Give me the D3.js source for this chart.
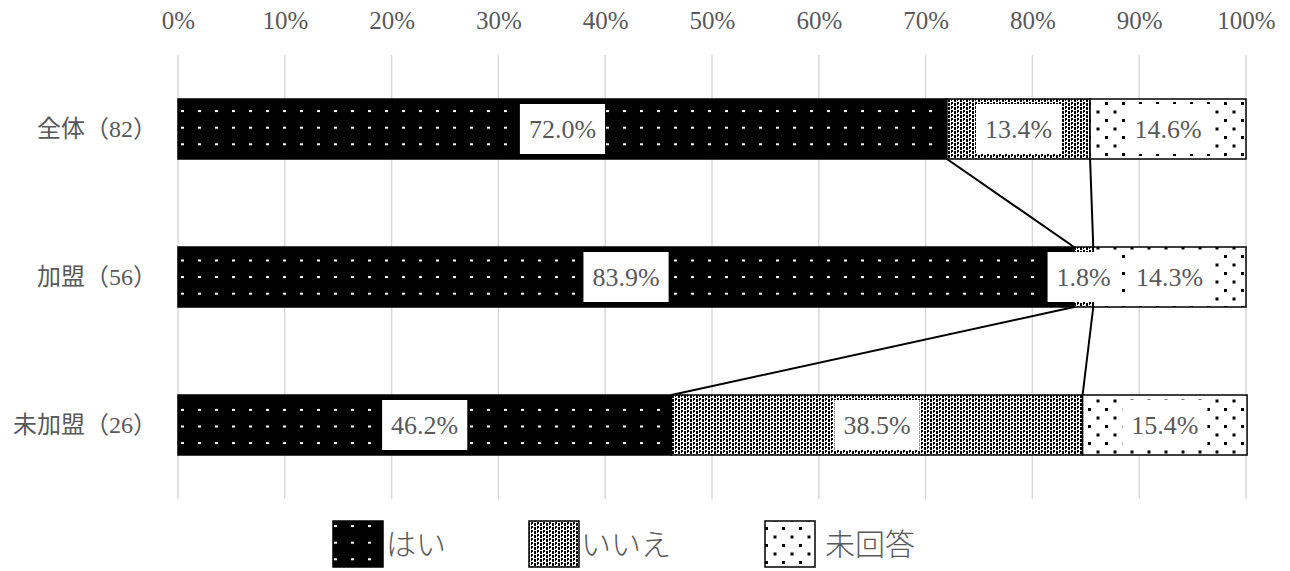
<!DOCTYPE html>
<html><head><meta charset="utf-8">
<script src="https://cdn.jsdelivr.net/npm/d3@7/dist/d3.min.js"></script>
<style>
html,body{margin:0;padding:0;background:#fff;}
svg{display:block;}
text{font-family:"Liberation Serif","Noto Sans CJK JP",serif;fill:#595959;}
</style></head>
<body>
<svg id="c" width="1290" height="571"></svg>
<script>
const categories = ["全体（82）", "加盟（56）", "未加盟（26）"];
const seriesNames = ["はい", "いいえ", "未回答"];
const yesValues = [72.0, 83.9, 46.2];
const noValues = [13.4, 1.8, 38.5];
const naValues = [14.6, 14.3, 15.4];
const tickValues = [0, 10, 20, 30, 40, 50, 60, 70, 80, 90, 100];

const svg = d3.select("#c");
const x = d3.scaleLinear().domain([0, 100]).range([178, 1246]);
const y = d3.scaleBand().domain(categories).range([55, 499]).paddingInner(88/148).paddingOuter(44/148);
const bw = y.bandwidth();

// patterns
const defs = svg.append("defs");
const pYes = defs.append("pattern").attr("id","pYes").attr("patternUnits","userSpaceOnUse")
  .attr("width",17).attr("height",16.6).attr("x",180).attr("y",10.5);
pYes.append("rect").attr("width",17).attr("height",16.6).attr("fill","#000");
pYes.append("rect").attr("x",1).attr("y",0).attr("width",3).attr("height",2).attr("fill","#fff");

const pNo = defs.append("pattern").attr("id","pNo").attr("patternUnits","userSpaceOnUse")
  .attr("width",6).attr("height",4);
pNo.append("rect").attr("width",6).attr("height",4).attr("fill","#fff");
pNo.append("rect").attr("x",0).attr("y",0).attr("width",2).attr("height",2).attr("fill","#000");
pNo.append("rect").attr("x",3).attr("y",2).attr("width",2).attr("height",2).attr("fill","#000");
pNo.append("rect").attr("x",3).attr("y",0).attr("width",1).attr("height",1).attr("fill","#000");
pNo.append("rect").attr("x",0).attr("y",3).attr("width",2).attr("height",1).attr("fill","#000");

const pNA = defs.append("pattern").attr("id","pNA").attr("patternUnits","userSpaceOnUse")
  .attr("width",17).attr("height",17);
pNA.append("rect").attr("width",17).attr("height",17).attr("fill","#fff");
pNA.append("rect").attr("x",0).attr("y",0).attr("width",3).attr("height",3).attr("fill","#000");
pNA.append("rect").attr("x",8.5).attr("y",8.5).attr("width",3).attr("height",3).attr("fill","#000");

const fills = ["url(#pYes)", "url(#pNo)", "url(#pNA)"];

// gridlines
svg.append("g").selectAll("line").data(tickValues).join("line")
  .attr("x1", d => x(d)).attr("x2", d => x(d))
  .attr("y1", 55).attr("y2", 499)
  .attr("stroke", "#d9d9d9").attr("stroke-width", 1.5);

// axis top
const axis = svg.append("g").attr("transform","translate(0,41)")
  .call(d3.axisTop(x).tickValues(tickValues).tickSize(0).tickPadding(12).tickFormat(d => d + "%"));
axis.select(".domain").remove();
axis.selectAll("text").attr("font-size", 25).style("font-family", '"Liberation Serif",serif').attr("fill","#595959");

// category labels
svg.append("g").selectAll("text").data(categories).join("text")
  .attr("x", 157).attr("y", d => y(d) + bw/2).attr("dy","0.35em")
  .attr("text-anchor","end").attr("font-size", 24).text(d => d);

// stacked data
const rows = categories.map((c, i) => {
  const vals = [yesValues[i], noValues[i], naValues[i]];
  let cum = 0;
  const segs = vals.map((v, k) => { const s = {cat:c, k, v, x0:cum, x1:cum+v}; cum += v; return s; });
  return {cat:c, segs};
});

// bars
const gb = svg.append("g");
rows.forEach(r => {
  gb.selectAll(null).data(r.segs).join("rect")
    .attr("x", d => x(d.x0)).attr("width", d => x(d.x1) - x(d.x0))
    .attr("y", y(r.cat)).attr("height", bw)
    .attr("fill", d => fills[d.k]).attr("stroke", "#000").attr("stroke-width", 1.5);
});

// series lines
const gl = svg.append("g");
for (let i = 0; i < rows.length - 1; i++) {
  [0, 1].forEach(k => {
    gl.append("line")
      .attr("x1", x(rows[i].segs[k].x1)).attr("y1", y(rows[i].cat) + bw)
      .attr("x2", x(rows[i+1].segs[k].x1)).attr("y2", y(rows[i+1].cat))
      .attr("stroke", "#000").attr("stroke-width", 2);
  });
}

// data labels
const glab = svg.append("g");
rows.forEach(r => {
  r.segs.forEach(s => {
    const cx = x((s.x0 + s.x1) / 2), cy = y(r.cat) + bw/2;
    const g = glab.append("g");
    const t = g.append("text").attr("x", cx).attr("y", cy).attr("dy", "0.35em")
      .attr("text-anchor","middle").attr("font-size", 26).text(s.v.toFixed(1) + "%");
    const bb = t.node().getBBox();
    g.insert("rect", "text").attr("x", cx - bb.width/2 - 9).attr("width", bb.width + 18)
      .attr("y", y(r.cat) + 5).attr("height", bw - 10).attr("fill", "#fff");
  });
});

// legend
const legX = [333, 529, 765];
const legTextOff = [53, 52, 60];
const gLeg = svg.append("g");
seriesNames.forEach((n, k) => {
  gLeg.append("rect").attr("x", legX[k]).attr("y", 521).attr("width", 50).attr("height", 46)
    .attr("fill", fills[k]).attr("stroke", "#000").attr("stroke-width", 1.5);
  gLeg.append("text").attr("x", legX[k] + legTextOff[k]).attr("y", 544).attr("dy", "0.36em")
    .attr("font-size", 30).attr("font-weight", 300).text(n);
});
</script>
</body></html>
